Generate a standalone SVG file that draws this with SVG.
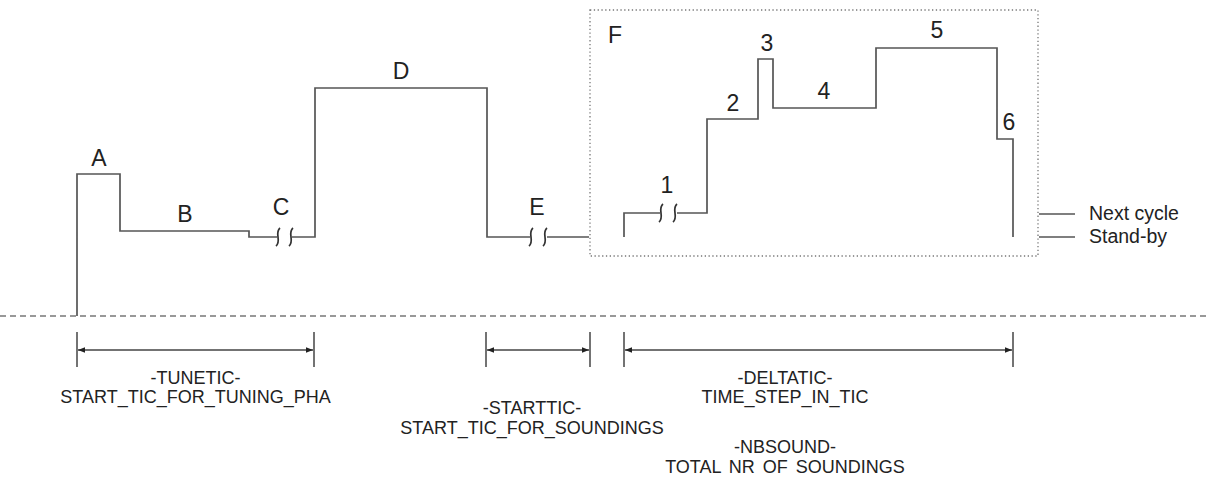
<svg xmlns="http://www.w3.org/2000/svg" width="1209" height="477" viewBox="0 0 1209 477">
<defs>
<style>
.w{fill:none;stroke:#555;stroke-width:1.7;stroke-linejoin:miter}
.brk{fill:none;stroke:#333;stroke-width:1.7}
.lbl{font-family:"Liberation Sans",Arial,sans-serif;font-size:23px;fill:#222;text-anchor:middle}
.txt{font-family:"Liberation Sans",Arial,sans-serif;font-size:18px;fill:#222;text-anchor:middle}
.side{font-family:"Liberation Sans",Arial,sans-serif;font-size:19.5px;fill:#222}
.dim{fill:none;stroke:#444;stroke-width:1.5}
.tick{fill:none;stroke:#444;stroke-width:1.5}
</style>
<marker id="ah" viewBox="0 0 10 10" refX="10" refY="5" markerWidth="7" markerHeight="7" markerUnits="userSpaceOnUse" orient="auto-start-reverse">
<path d="M0,1 L10,5 L0,9 z" fill="#222"/>
</marker>
</defs>
<rect width="1209" height="477" fill="#fff"/>

<g id="baseline">
<line x1="0" y1="316" x2="1209" y2="316" stroke="#333" stroke-width="1.2" stroke-dasharray="6,4"/>
</g>

<g id="connectors">
<path class="w" d="M77,316 V174 H120 V231 H249 V237 H277"/>
<path class="w" d="M292,237 H315 V88 H487 V237 H530"/>
<path class="w" d="M547,237 H589"/>
<path class="brk" d="M280,228 C274,233 282,241 276,246"/>
<path class="brk" d="M293,228 C287,233 295,241 289,246"/>
<path class="brk" d="M533,228 C527,233 535,241 529,246"/>
<path class="brk" d="M547,228 C541,233 549,241 543,246"/>
<path class="w" d="M624,237 V213 H660"/>
<path class="w" d="M677,213 H707 V119 H758 V59 H773 V108 H876 V48 H997 V139 H1013 V237"/>
<path class="brk" d="M663,204 C657,209 665,217 659,222"/>
<path class="brk" d="M677,204 C671,209 679,217 673,222"/>
<line class="w" x1="1039" y1="214" x2="1075" y2="214"/>
<line class="w" x1="1039" y1="237" x2="1075" y2="237"/>
</g>

<g id="nodeF">
<rect x="590" y="10" width="448" height="246" fill="none" stroke="#777" stroke-width="1.3" stroke-dasharray="1.3,2.5"/>
<text x="608" y="43" class="lbl" style="text-anchor:start">F</text>
</g>

<g id="nodeA"><text x="99" y="166" class="lbl">A</text></g>
<g id="nodeB"><text x="185" y="222" class="lbl">B</text></g>
<g id="nodeC"><text x="281" y="215" class="lbl">C</text></g>
<g id="nodeD"><text x="401" y="79" class="lbl">D</text></g>
<g id="nodeE"><text x="537" y="215" class="lbl">E</text></g>
<g id="node1"><text x="667" y="193" class="lbl">1</text></g>
<g id="node2"><text x="733" y="111" class="lbl">2</text></g>
<g id="node3"><text x="767" y="51" class="lbl">3</text></g>
<g id="node4"><text x="824" y="99" class="lbl">4</text></g>
<g id="node5"><text x="937" y="38" class="lbl">5</text></g>
<g id="node6"><text x="1009" y="130" class="lbl">6</text></g>

<g id="nextcycle"><text x="1089" y="220" class="side">Next cycle</text></g>
<g id="standby"><text x="1089" y="243" class="side">Stand-by</text></g>

<g id="dim-tunetic">
<line class="tick" x1="77" y1="332" x2="77" y2="367"/>
<line class="tick" x1="314" y1="332" x2="314" y2="367"/>
<line class="dim" x1="78" y1="350" x2="313" y2="350" marker-start="url(#ah)" marker-end="url(#ah)"/>
<text x="195.5" y="384" class="txt">-TUNETIC-</text>
<text x="195.5" y="403" class="txt">START_TIC_FOR_TUNING_PHA</text>
</g>

<g id="dim-starttic">
<line class="tick" x1="486" y1="332" x2="486" y2="367"/>
<line class="tick" x1="590" y1="332" x2="590" y2="367"/>
<line class="dim" x1="487" y1="350" x2="589" y2="350" marker-start="url(#ah)" marker-end="url(#ah)"/>
<text x="532" y="414" class="txt">-STARTTIC-</text>
<text x="532" y="434" class="txt">START_TIC_FOR_SOUNDINGS</text>
</g>

<g id="dim-deltatic">
<line class="tick" x1="624" y1="332" x2="624" y2="367"/>
<line class="tick" x1="1013" y1="332" x2="1013" y2="367"/>
<line class="dim" x1="625" y1="350" x2="1012" y2="350" marker-start="url(#ah)" marker-end="url(#ah)"/>
<text x="785" y="384" class="txt">-DELTATIC-</text>
<text x="785" y="403" class="txt">TIME_STEP_IN_TIC</text>
<text x="785" y="453" class="txt">-NBSOUND-</text>
<text x="785" y="473" class="txt" style="word-spacing:3px">TOTAL NR OF SOUNDINGS</text>
</g>
</svg>
